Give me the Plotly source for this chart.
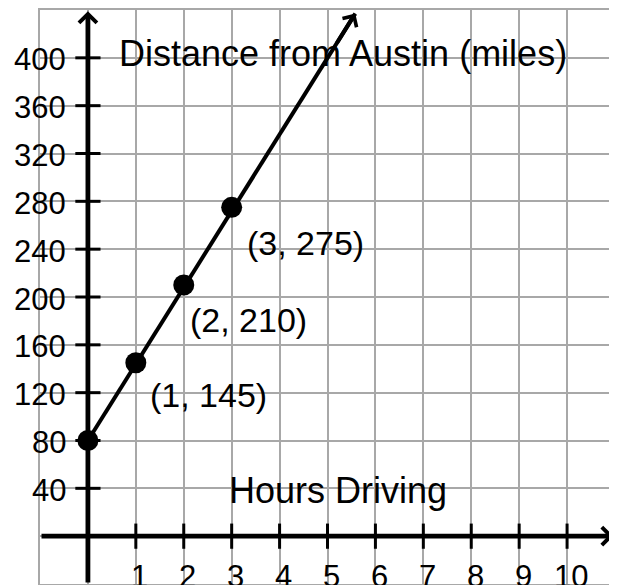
import plotly.graph_objects as go

# ---- data ----
hours = [0, 1, 2, 3]
distance = [80, 145, 210, 275]
point_labels = ["(1, 145)", "(2, 210)", "(3, 275)"]
x_tick_vals = [1, 2, 3, 4, 5, 6, 7, 8, 9, 10]
y_tick_vals = [40, 80, 120, 160, 200, 240, 280, 320, 360, 400]
line_tip = (5.58, 437)          # where the line's arrow ends
x_axis_tip = 10.97
y_axis_tip = 439
y_title = "Distance from Austin (miles)"
x_title = "Hours Driving"

# ---- style ----
FONT = "Liberation Sans, Arial, sans-serif"
GRID = "#A8A8A8"
AXW = 4.8
label_shift = [(73, -32), (65, -35), (74, -36)]

fig = go.Figure()

# main line (from first data point to arrow tip)
fig.add_trace(go.Scatter(x=[hours[0], line_tip[0]], y=[distance[0], line_tip[1]],
                         mode="lines", line=dict(color="black", width=4),
                         hoverinfo="skip", showlegend=False))
# data points
fig.add_trace(go.Scatter(x=hours, y=distance, mode="markers",
                         marker=dict(color="black", size=21),
                         hoverinfo="skip", showlegend=False))
# tick marks on the axes
fig.add_trace(go.Scatter(x=x_tick_vals, y=[0] * len(x_tick_vals), mode="markers",
                         marker=dict(symbol="line-ns", size=18, line=dict(color="black", width=3)),
                         hoverinfo="skip", showlegend=False))
fig.add_trace(go.Scatter(x=[0] * len(y_tick_vals), y=y_tick_vals, mode="markers",
                         marker=dict(symbol="line-ew", size=18, line=dict(color="black", width=3)),
                         hoverinfo="skip", showlegend=False))

ann = []
# axes as arrows
ann.append(dict(x=0, y=y_axis_tip, ax=0, ay=-40, xref="x", yref="y", axref="x", ayref="y",
                showarrow=True, arrowhead=4, arrowwidth=AXW, arrowsize=0.72, arrowcolor="black", text=""))
ann.append(dict(x=x_axis_tip, y=0, ax=-1, ay=0, xref="x", yref="y", axref="x", ayref="y",
                showarrow=True, arrowhead=4, arrowwidth=AXW, arrowsize=0.72, arrowcolor="black", text=""))
# arrowhead on the data line
dx = 0.4
slope = (line_tip[1] - distance[0]) / (line_tip[0] - hours[0])
ann.append(dict(x=line_tip[0], y=line_tip[1], ax=line_tip[0] - dx, ay=line_tip[1] - slope * dx,
                xref="x", yref="y", axref="x", ayref="y",
                showarrow=True, arrowhead=4, arrowwidth=4, arrowsize=0.8, arrowcolor="black", text=""))

# tick labels
for v in y_tick_vals:
    ann.append(dict(x=0, y=v, xref="x", yref="y", text=str(v), showarrow=False,
                    xanchor="right", yanchor="middle", xshift=-20, yshift=-2,
                    font=dict(family=FONT, size=31, color="black")))
for v in x_tick_vals:
    ann.append(dict(x=v, y=0, xref="x", yref="y", text=str(v), showarrow=False,
                    xanchor="center", yanchor="middle", xshift=4, yshift=-40,
                    font=dict(family=FONT, size=31, color="black")))

# point labels
for (hx, dy_, txt, sh) in zip(hours[1:], distance[1:], point_labels, label_shift):
    ann.append(dict(x=hx, y=dy_, xref="x", yref="y", text=txt, showarrow=False,
                    xanchor="center", yanchor="middle", xshift=sh[0], yshift=sh[1],
                    font=dict(family=FONT, size=34, color="black")))

# axis titles
ann.append(dict(x=5.33, y=404, xref="x", yref="y", text=y_title, showarrow=False,
                xanchor="center", yanchor="middle", font=dict(family=FONT, size=36, color="black")))
ann.append(dict(x=5.21, y=38, xref="x", yref="y", text=x_title, showarrow=False,
                xanchor="center", yanchor="middle", font=dict(family=FONT, size=36, color="black")))

# the page body has an 8px margin, so the figure is offset by (8, 8)
fig.update_layout(
    width=609, height=577,
    margin=dict(l=32, r=1, t=0, b=1, pad=0),
    plot_bgcolor="white", paper_bgcolor="white",
    annotations=ann,
    showlegend=False,
)
fig.update_xaxes(range=[-1, 11], tick0=-1, dtick=1, showgrid=True, gridcolor=GRID, gridwidth=2,
                 showticklabels=False, zeroline=False, showline=True, mirror=True,
                 linecolor=GRID, linewidth=2, ticks="", fixedrange=True)
fig.update_yaxes(range=[-40, 440], tick0=0, dtick=40, showgrid=True, gridcolor=GRID, gridwidth=2,
                 showticklabels=False, zeroline=False, showline=True, mirror=True,
                 linecolor=GRID, linewidth=2, ticks="", fixedrange=True)

fig.write_html("out.html", config={"displayModeBar": False})
